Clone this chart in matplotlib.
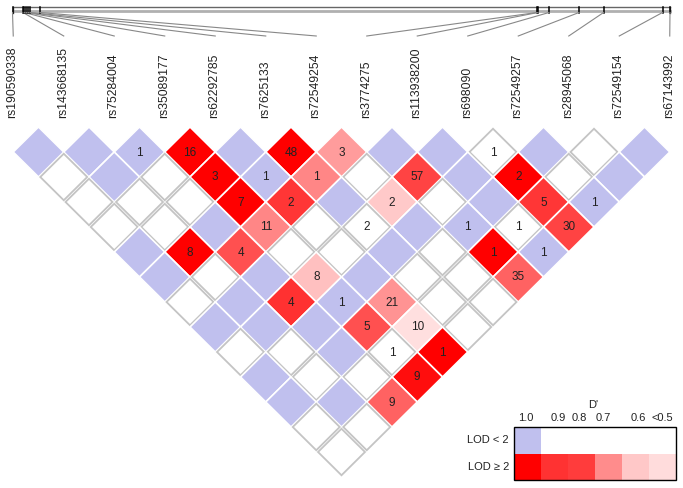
import matplotlib
matplotlib.use("Agg")
import matplotlib.pyplot as plt
from matplotlib.patches import Polygon, Rectangle

plt.rcParams['font.family'] = ['Liberation Sans', 'DejaVu Sans']

snps = ["rs190590338", "rs143668135", "rs75284004", "rs35089177", "rs62292785",
        "rs7625133", "rs72549254", "rs3774275", "rs113938200", "rs698090",
        "rs72549257", "rs28945068", "rs72549154", "rs67143992"]

# relative position of each SNP along the region (0 = first, 1 = last)
snp_pos = [0.0, 0.016, 0.018, 0.0205, 0.0236, 0.0266, 0.0418,
           0.7977, 0.7992, 0.816, 0.8616, 0.899, 0.9886, 1.0]

# LD triangle, row d holds the pairs (i, i+d)
# B = D'=1 & LOD<2, W = D'<1 & LOD<2, R = LOD>=2 (shade from D')
cell_class = [
    "BBBRBRRBBWBWB",
    "WBWRBRWRBRWB",
    "WWWRRBRWBRB",
    "WWBRWWBBWR",
    "BRRWWBWRB",
    "BWBRBWWR",
    "WBRBRWW",
    "BBBRRW",
    "WWBWR",
    "BWWR",
    "BBR",
    "WW",
    "W",
]

# D' of the LOD>=2 cells, in order along each row
red_dprime = [
    [1.0, 1.0, 0.65],
    [1.0, 0.70, 0.85, 1.0],
    [1.0, 0.88, 0.55, 0.88],
    [0.70, 0.85],
    [1.0, 0.82, 1.0],
    [0.57, 0.78],
    [0.89, 0.67],
    [0.82, 0.50],
    [1.0],
    [0.97],
    [0.78],
    [],
    [],
]

# r^2 x 100 printed in the cells
r2_labels = [
    ["", "", "1", "16", "", "48", "3", "", "", "1", "", "", ""],
    ["", "", "", "3", "1", "1", "", "57", "", "2", "", ""],
    ["", "", "", "7", "2", "", "2", "", "", "5", "1"],
    ["", "", "", "11", "", "2", "", "1", "1", "30"],
    ["", "8", "4", "", "", "", "", "1", "1"],
    ["", "", "", "8", "", "", "", "35"],
    ["", "", "4", "1", "21", "", ""],
    ["", "", "", "5", "10", ""],
    ["", "", "", "1", "1"],
    ["", "", "", "9"],
    ["", "", "9"],
    ["", ""],
    [""],
]

legend_dprime = ["1.0", "0.9", "0.8", "0.7", "0.6", "<0.5"]
legend_red = ["#ff0000", "#ff3232", "#ff3c3c", "#ff8c8c", "#ffc8c8", "#ffdcdc"]

BLUE = "#c0c0ee"
GRID = "#c4c4c4"
TXT = "#222222"


def red_shade(d):
    g = min(255, max(0, (255 - 32) * 2 * (1 - d))) / 255.0
    return (1.0, g, g)


fig = plt.figure(figsize=(6.83, 4.88), dpi=100)
ax = fig.add_axes([0, 0, 1, 1])
ax.set_xlim(0, 683)
ax.set_ylim(488, 0)
ax.axis("off")

# triangle geometry (pixels)
x0, dx = 13.25, 50.5
y_top, dy = 152, 25
hx, hy = dx / 2, dy

for r, row in enumerate(cell_class):
    d = r + 1
    reds = iter(red_dprime[r])
    for i, c in enumerate(row):
        cx = x0 + dx * (i + d / 2)
        cy = y_top + dy * (d - 1)
        if c == "W":
            s = 0.93
            pts = [(cx, cy - hy * s), (cx + hx * s, cy), (cx, cy + hy * s), (cx - hx * s, cy)]
            ax.add_patch(Polygon(pts, closed=True, fc="white", ec=GRID, lw=1.3))
        else:
            fc = BLUE if c == "B" else red_shade(next(reds))
            pts = [(cx, cy - hy), (cx + hx, cy), (cx, cy + hy), (cx - hx, cy)]
            ax.add_patch(Polygon(pts, closed=True, fc=fc, ec="white", lw=1.2))
        lab = r2_labels[r][i]
        if lab:
            ax.text(cx, cy + 0.5, lab, ha="center", va="center", fontsize=8.5, color=TXT)

# genomic position bar
bar_l, bar_r = 12.5, 670
ax.plot([bar_l, bar_r], [7.3, 7.3], color="#666666", lw=1.0)
ax.plot([bar_l, bar_r], [11.3, 11.3], color="#b0b0b0", lw=2.0)
ax.plot([bar_l, bar_l], [6.5, 12.5], color="#555555", lw=1.0)
ax.plot([bar_r, bar_r], [6.5, 12.5], color="#555555", lw=1.0)
for k, p in enumerate(snp_pos):
    bx = bar_l + p * (bar_r - bar_l)
    lx = x0 + dx * k
    ax.plot([bx, bx], [6.5, 12.5], color="black", lw=1.1)
    ax.plot([bx, lx], [12.5, 36], color="#888888", lw=0.8)
    ax.text(lx - 1, 118, snps[k], rotation=90, ha="center", va="bottom",
            fontsize=8.7, color=TXT)

# legend
lg_x, lg_y, cw, ch = 514, 427, 27, 26.5
for j in range(len(legend_dprime)):
    ax.add_patch(Rectangle((lg_x + j * cw, lg_y), cw, ch, fc=BLUE if j == 0 else "white", ec="none"))
    ax.add_patch(Rectangle((lg_x + j * cw, lg_y + ch), cw, ch, fc=legend_red[j], ec="none"))
ax.add_patch(Rectangle((lg_x, lg_y), cw * 6, ch * 2, fc="none", ec="black", lw=1.0))
label_x = [526, 558, 579, 603, 638, 662]
for j, t in enumerate(legend_dprime):
    ax.text(label_x[j], 418, t, ha="center", va="center", fontsize=8, color=TXT)
ax.text(593, 405, "D'", ha="center", va="center", fontsize=8, color=TXT)
ax.text(509, 440, "LOD < 2", ha="right", va="center", fontsize=8, color=TXT)
ax.text(509, 467, "LOD \u2265 2", ha="right", va="center", fontsize=8, color=TXT)

fig.savefig("out.png", dpi=100)
